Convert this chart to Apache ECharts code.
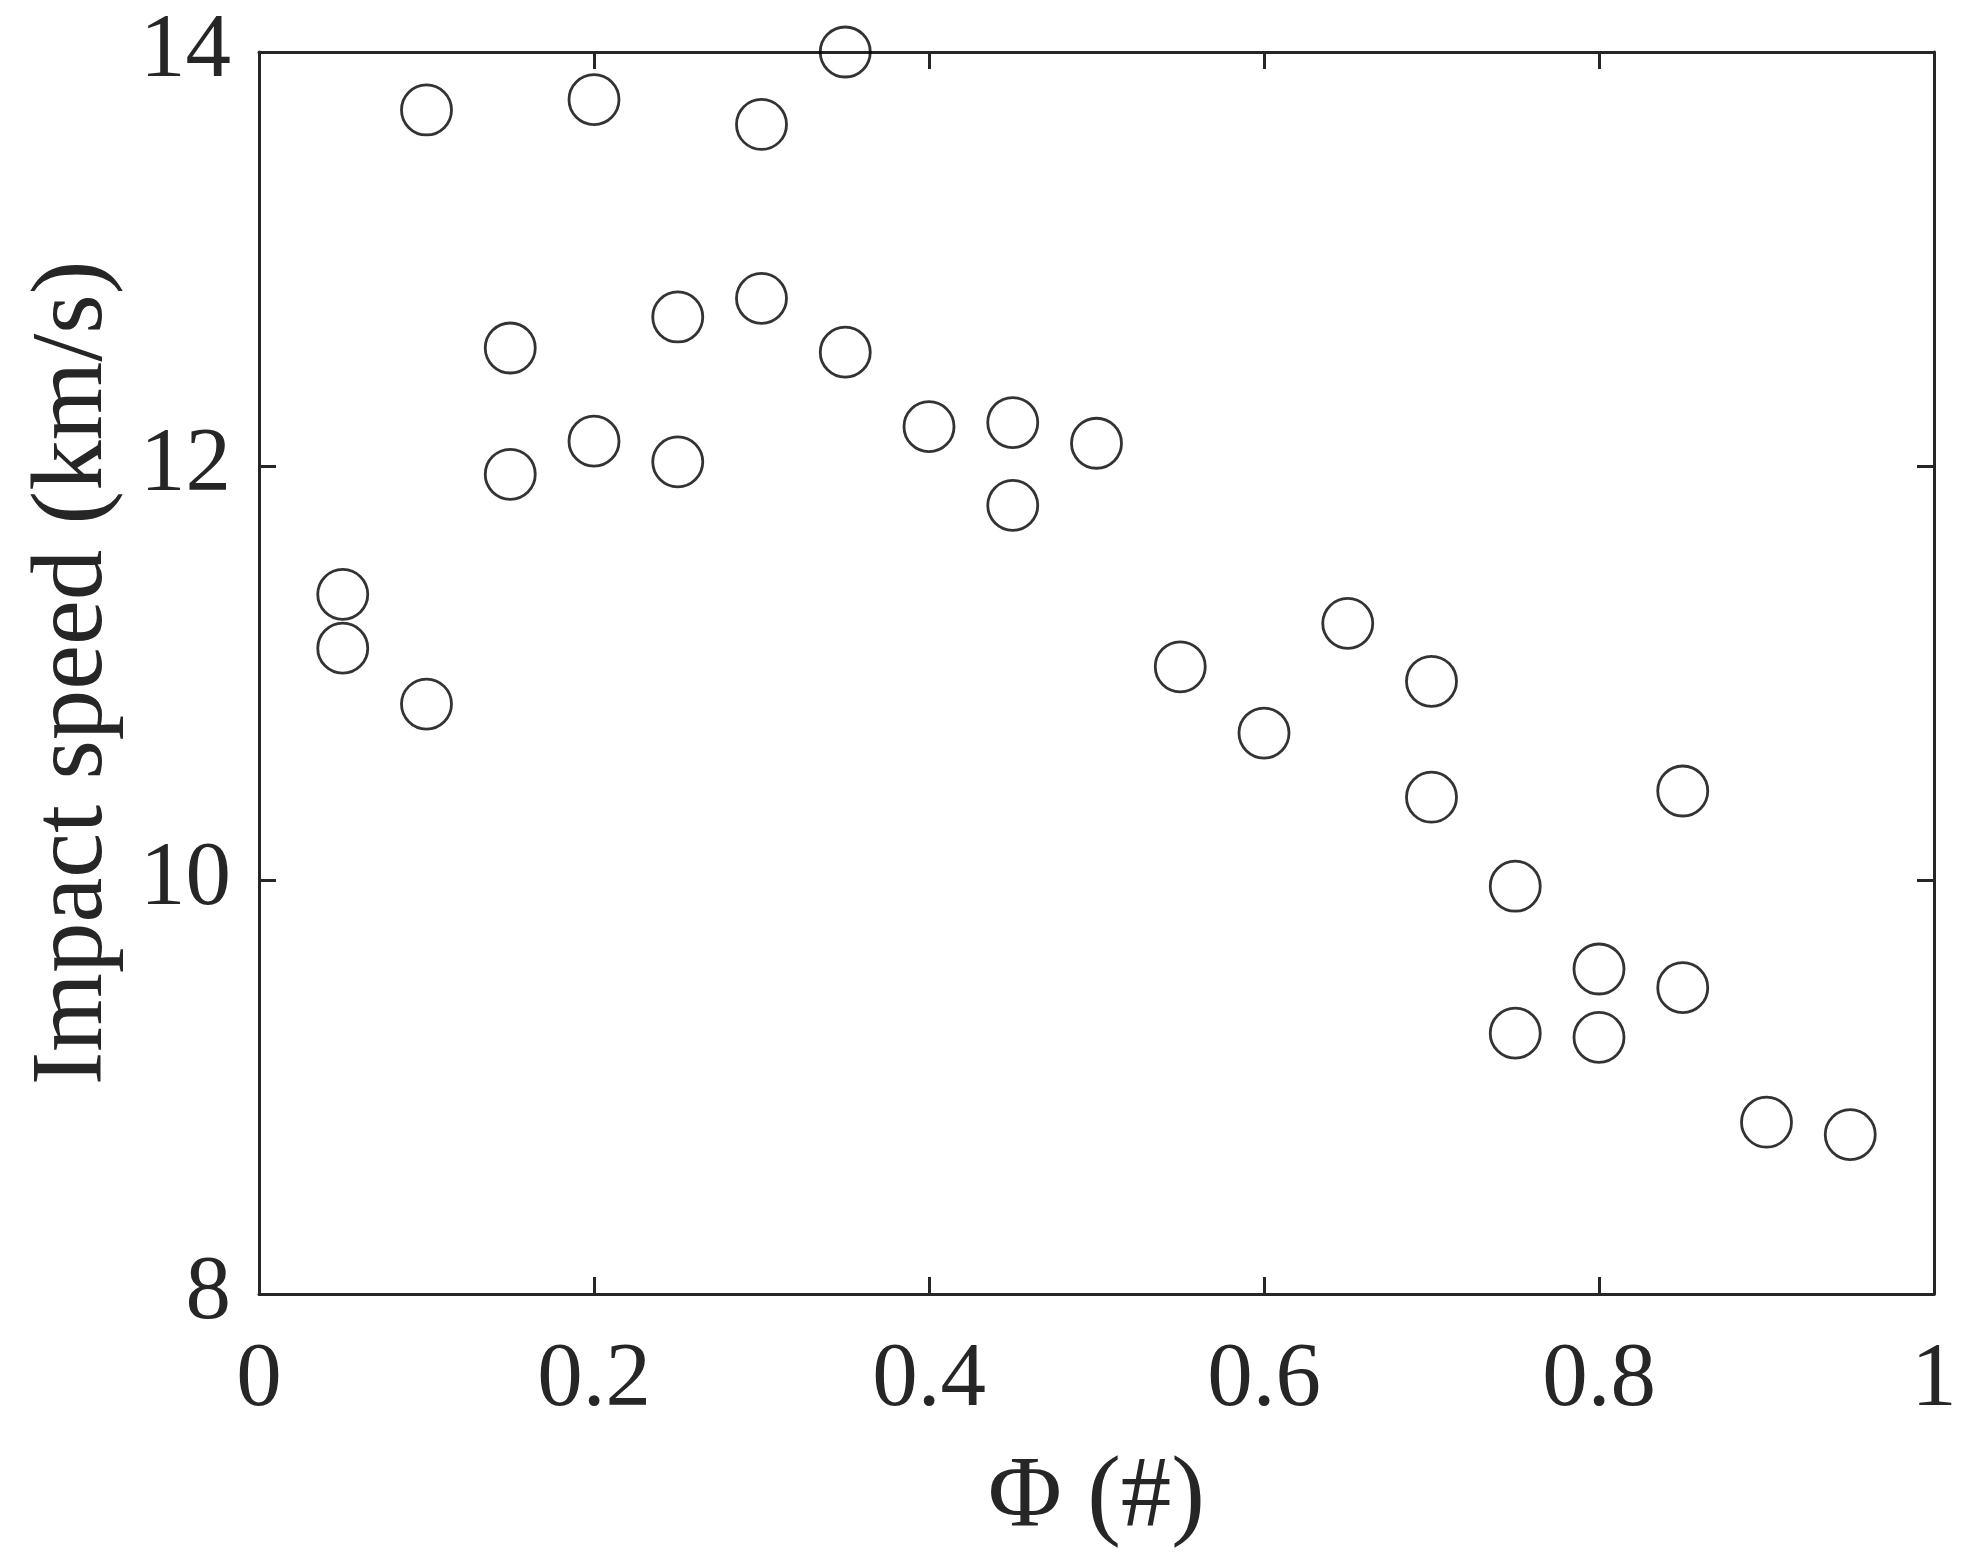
<!DOCTYPE html>
<html>
<head>
<meta charset="utf-8">
<script src="https://cdn.jsdelivr.net/npm/echarts@6/dist/echarts.min.js"></script>
<style>
  html, body { margin: 0; padding: 0; background: #fff; }
  #chart { width: 1974px; height: 1568px; }
</style>
</head>
<body>
<div id="chart"></div>
<script>
// porosity values (x) and impact speeds in km/s (y)
const phi = [
  0.05, 0.05, 0.1, 0.1, 0.15, 0.15, 0.2, 0.2, 0.25, 0.25,
  0.3, 0.3, 0.35, 0.35, 0.4, 0.45, 0.45, 0.5, 0.55, 0.6,
  0.65, 0.7, 0.7, 0.75, 0.75, 0.8, 0.8, 0.85, 0.85, 0.9, 0.95
];
const speed = [
  11.38, 11.12, 13.72, 10.85, 12.57, 11.96, 13.77, 12.12, 12.72, 12.02,
  13.65, 12.81, 14.0, 12.55, 12.19, 12.21, 11.81, 12.11, 11.03, 10.71,
  11.24, 10.96, 10.40, 9.97, 9.26, 9.57, 9.24, 10.43, 9.48, 8.83, 8.77
];
const xTicks = [0, 0.2, 0.4, 0.6, 0.8, 1];
const yTicks = [8, 10, 12, 14];

const chart = echarts.init(document.getElementById('chart'));

const ink = '#262626';
const serif = 'Liberation Serif';

// shared look for every axis (MATLAB style box with inward ticks)
function axisBase(showLabel) {
  return {
    type: 'value',
    splitLine: { show: false },
    axisLine: { show: true, onZero: false, lineStyle: { color: ink, width: 3 } },
    axisTick: { show: true, inside: true, length: 17, lineStyle: { color: ink, width: 3 } },
    axisLabel: {
      show: showLabel,
      fontFamily: serif,
      fontSize: 91,
      color: ink
    }
  };
}

const xMain = Object.assign(axisBase(true), {
  position: 'bottom',
  min: xTicks[0],
  max: xTicks[xTicks.length - 1],
  interval: 0.2,
  name: 'Φ (#)',
  nameLocation: 'middle',
  nameGap: 155,
  nameTextStyle: { fontFamily: serif, fontSize: 101, color: ink }
});
xMain.axisLabel.margin = 42;

const xTop = Object.assign(axisBase(false), {
  position: 'top',
  min: xTicks[0],
  max: xTicks[xTicks.length - 1],
  interval: 0.2
});

const yMain = Object.assign(axisBase(true), {
  position: 'left',
  min: yTicks[0],
  max: yTicks[yTicks.length - 1],
  interval: 2,
  name: 'Impact speed (km/s)',
  nameLocation: 'middle',
  nameGap: 134,
  nameRotate: 90,
  nameTextStyle: { fontFamily: serif, fontSize: 101, color: ink }
});
yMain.axisLabel.margin = 28;

const yRight = Object.assign(axisBase(false), {
  position: 'right',
  min: yTicks[0],
  max: yTicks[yTicks.length - 1],
  interval: 2
});

const option = {
  backgroundColor: '#fff',
  animation: false,
  grid: {
    left: 259,
    right: 40,
    top: 52,
    bottom: 274,
    containLabel: false,
    outerBoundsMode: 'none'
  },
  xAxis: [xMain, xTop],
  yAxis: [yMain, yRight],
  series: [
    {
      type: 'scatter',
      xAxisIndex: 0,
      yAxisIndex: 0,
      clip: false,
      symbol: 'circle',
      symbolSize: 50,
      itemStyle: { color: 'rgba(0,0,0,0)', borderColor: '#000', borderWidth: 2.8 },
      data: phi.map((p, i) => [p, speed[i]])
    }
  ]
};

chart.setOption(option);
</script>
</body>
</html>
